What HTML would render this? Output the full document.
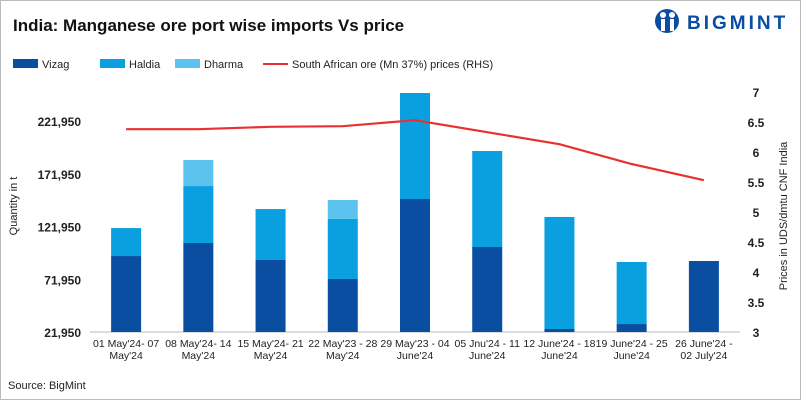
<!DOCTYPE html>
<html><head><meta charset="utf-8"><style>
body{margin:0;background:#fff;font-family:"Liberation Sans",sans-serif}
#c{position:relative;width:799px;height:398px;border:1px solid #bbb;overflow:hidden}
</style></head><body>
<div id="c">
<svg id="s" width="799" height="398" xmlns="http://www.w3.org/2000/svg">
<text x="12" y="30" font-size="17" font-weight="bold" fill="#111">India: Manganese ore port wise imports Vs price</text>
<g>
<circle cx="666" cy="20" r="12" fill="#0a4ea2"/>
<circle cx="662" cy="14" r="3" fill="#fff"/><circle cx="671" cy="14" r="3" fill="#fff"/>
<rect x="660" y="18" width="4" height="12" fill="#fff"/><rect x="669" y="18" width="4" height="12" fill="#fff"/>
<text x="686" y="28" font-size="19" font-weight="bold" fill="#0a4ea2" letter-spacing="3">BIGMINT</text>
</g>
<g id="legend" font-size="11" fill="#222">
<rect x="12" y="58" width="25" height="9" fill="#0a4ea2"/><text x="41" y="67">Vizag</text>
<rect x="99" y="58" width="25" height="9" fill="#0aa0e0"/><text x="128" y="67">Haldia</text>
<rect x="174" y="58" width="25" height="9" fill="#5cc3ef"/><text x="203" y="67">Dharma</text>
<line x1="262" y1="63" x2="287" y2="63" stroke="#e8312f" stroke-width="2"/><text x="291" y="67">South African ore (Mn 37%) prices (RHS)</text>
</g>
<text transform="translate(16,205) rotate(-90)" font-size="11" text-anchor="middle" fill="#222">Quantity in t</text>
<text transform="translate(786,215) rotate(-90)" font-size="11" text-anchor="middle" fill="#222">Prices in UDS/dmtu CNF India</text>
<text x="7" y="388" font-size="11" fill="#222">Source: BigMint</text>
<g id="plot"></g>
</svg>
</div>
<script>
const categories=[["01 May'24- 07","May'24"],["08 May'24- 14","May'24"],["15 May'24- 21","May'24"],["22 May'23 - 28","May'24"],["29 May'23 - 04","June'24"],["05 Jnu'24 - 11","June'24"],["12 June'24 - 18","June'24"],["19 June'24 - 25","June'24"],["26 June'24 -","02 July'24"]];
const vizag=[93950,106300,90200,72200,148000,102500,24800,29500,89250];
const haldia=[26500,54000,48300,56900,100500,91000,106200,58800,0];
const dharma=[0,24700,0,18000,0,0,0,0,0];
const price=[6.38,6.38,6.42,6.43,6.53,6.33,6.13,5.8,5.53];
const leftTicks=[21950,71950,121950,171950,221950];
const rightTicks=[3,3.5,4,4.5,5,5.5,6,6.5,7];
const NS="http://www.w3.org/2000/svg";
const g=document.getElementById('plot');
const x0=89,x1=739,yb=331,yt=91;
const minL=21950,maxL=21950+(yb-yt)*200000/211;
const yL=v=>yb-(Math.max(v,minL)-minL)/(maxL-minL)*(yb-yt);
const yR=v=>yb-(v-3)/4*(yb-yt);
const step=(x1-x0)/categories.length;
const xc=i=>x0+step*(i+0.5);
function el(t,a){const e=document.createElementNS(NS,t);for(const k in a)e.setAttribute(k,a[k]);g.appendChild(e);return e;}
const ax=el('line',{x1:x0,x2:x1,y1:yb,y2:yb,stroke:'#bbb'});


leftTicks.forEach(v=>{const t=el('text',{x:80,y:yL(v)+5,'text-anchor':'end','font-size':12,'font-weight':'bold',fill:'#222'});t.textContent=v.toLocaleString('en-US');

});
rightTicks.forEach(v=>{const t=el('text',{x:755,y:yR(v)+5,'text-anchor':'middle','font-size':12,'font-weight':'bold',fill:'#222'});t.textContent=String(v);

});
const bw=30;
categories.forEach((c,i)=>{
 const segs=[[vizag[i],'#0a4ea2','vizag'],[haldia[i],'#0aa0e0','haldia'],[dharma[i],'#5cc3ef','dharma']];
 let cum=0;
 segs.forEach(([v,col,n])=>{if(v<=0)return;const y0=yL(cum),y1=yL(cum+v);cum+=v;
  const r=el('rect',{x:xc(i)-bw/2,y:y1,width:bw,height:Math.max(0,y0-y1),fill:col});
  
  });
 c.forEach((l,j)=>{const t=el('text',{x:xc(i),y:346+j*12,'text-anchor':'middle','font-size':10.5,fill:'#222'});t.textContent=l;
  
  });
});
const pl=el('polyline',{points:price.map((p,i)=>xc(i)+','+yR(p)).join(' '),fill:'none',stroke:'#e8312f','stroke-width':2.2});


</script>
</body></html>
